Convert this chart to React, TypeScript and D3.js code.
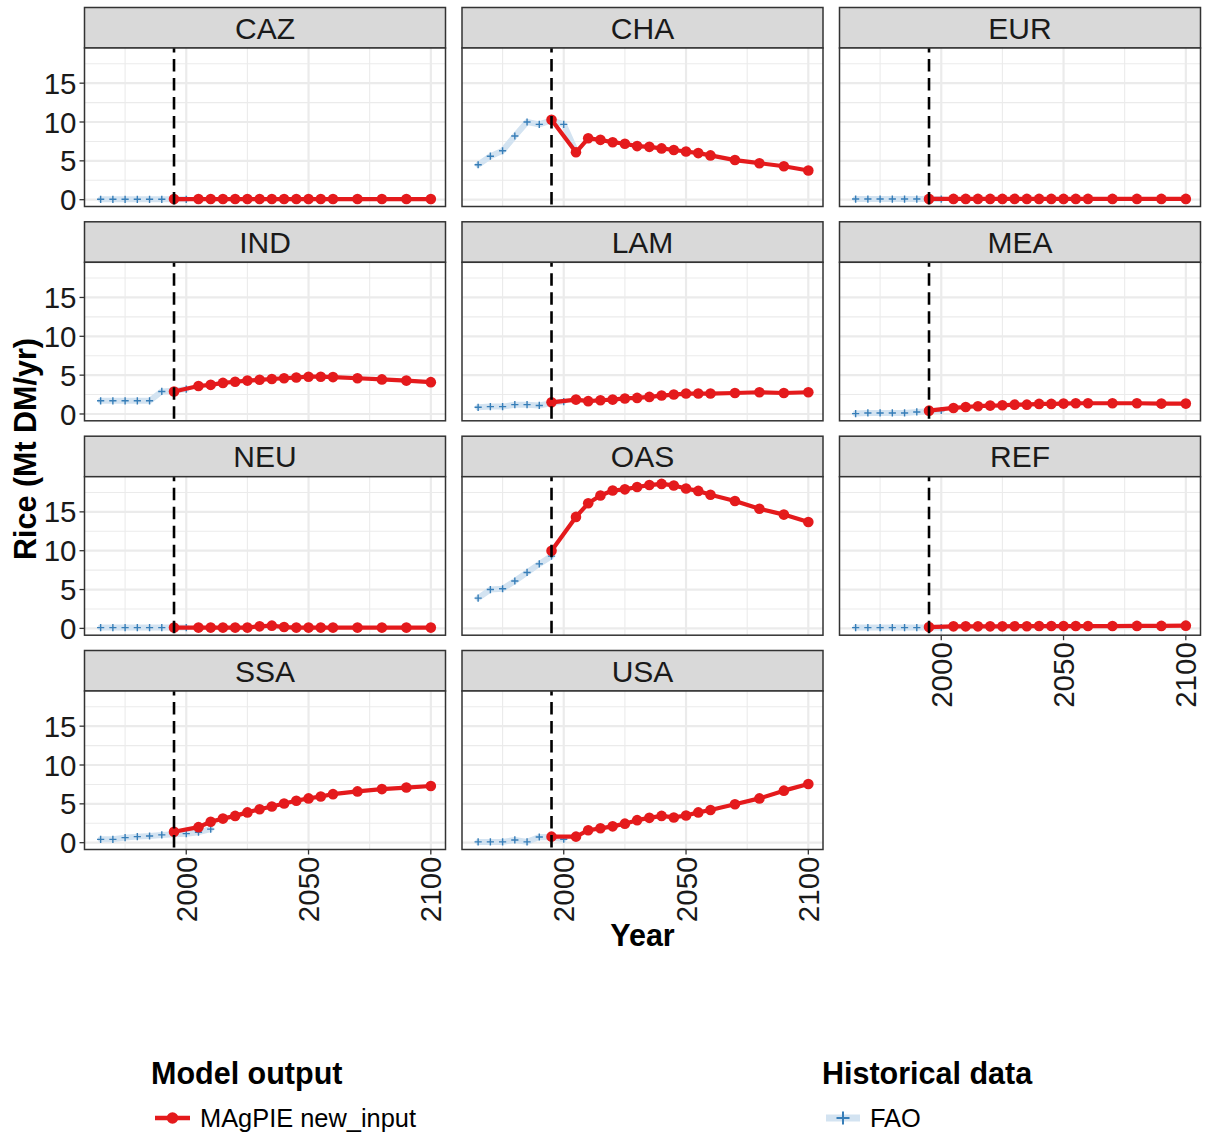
import React from 'react';
import * as d3 from 'd3';

// years
const modelYears = [1995, 2005, 2010, 2015, 2020, 2025, 2030, 2035, 2040, 2045, 2050, 2055, 2060, 2070, 2080, 2090, 2100];
const faoYears = [1965, 1970, 1975, 1980, 1985, 1990, 1995, 2000, 2005, 2010];
const regions = ['CAZ', 'CHA', 'EUR', 'IND', 'LAM', 'MEA', 'NEU', 'OAS', 'REF', 'SSA', 'USA'];
const yTicks = [0, 5, 10, 15];
const yMinor = [2.5, 7.5, 12.5, 17.5];
const xTicks = [2000, 2050, 2100];
const xMinor = [1975, 2025, 2075];
const startYear = 1995;

// MAgPIE new_input (Mt DM/yr)
const magCAZ = [0.08, 0.08, 0.08, 0.08, 0.08, 0.08, 0.08, 0.08, 0.08, 0.08, 0.08, 0.08, 0.08, 0.08, 0.08, 0.08, 0.08];
const magCHA = [10.3, 6.1, 7.9, 7.7, 7.4, 7.2, 6.9, 6.8, 6.6, 6.4, 6.2, 6.0, 5.7, 5.1, 4.7, 4.3, 3.75];
const magEUR = [0.1, 0.1, 0.1, 0.1, 0.1, 0.1, 0.1, 0.1, 0.1, 0.1, 0.1, 0.1, 0.1, 0.1, 0.1, 0.1, 0.1];
const magIND = [2.9, 3.6, 3.75, 4.0, 4.15, 4.3, 4.4, 4.5, 4.6, 4.7, 4.8, 4.8, 4.75, 4.6, 4.45, 4.3, 4.1];
const magLAM = [1.5, 1.85, 1.65, 1.77, 1.85, 2.0, 2.07, 2.2, 2.37, 2.5, 2.63, 2.63, 2.63, 2.7, 2.8, 2.7, 2.8];
const magMEA = [0.43, 0.78, 0.9, 1.0, 1.08, 1.12, 1.2, 1.2, 1.3, 1.3, 1.34, 1.38, 1.38, 1.38, 1.38, 1.34, 1.34];
const magNEU = [0.1, 0.1, 0.1, 0.1, 0.1, 0.1, 0.26, 0.35, 0.17, 0.1, 0.1, 0.1, 0.1, 0.1, 0.1, 0.1, 0.1];
const magOAS = [10.0, 14.35, 16.1, 17.1, 17.75, 17.9, 18.2, 18.45, 18.6, 18.4, 18.0, 17.7, 17.2, 16.4, 15.4, 14.65, 13.7];
const magREF = [0.17, 0.26, 0.26, 0.26, 0.26, 0.26, 0.28, 0.28, 0.3, 0.3, 0.3, 0.3, 0.3, 0.3, 0.32, 0.32, 0.35];
const magSSA = [1.4, 2.0, 2.7, 3.1, 3.45, 3.9, 4.3, 4.65, 5.05, 5.4, 5.7, 5.95, 6.25, 6.6, 6.9, 7.1, 7.3];
const magUSA = [0.78, 0.78, 1.6, 1.85, 2.1, 2.45, 2.9, 3.2, 3.45, 3.25, 3.5, 3.9, 4.2, 4.95, 5.7, 6.7, 7.55];

// FAO historical (null = not visible)
const faoCAZ = [0.05, 0.05, 0.05, 0.05, 0.05, 0.05, 0.05, 0.05, null, null];
const faoCHA = [4.5, 5.6, 6.3, 8.2, 10.0, 9.7, 10.2, 9.7, 6.2, null];
const faoEUR = [0.08, 0.08, 0.08, 0.08, 0.08, 0.08, 0.08, 0.08, null, null];
const faoIND = [1.7, 1.7, 1.7, 1.7, 1.7, 2.9, 3.0, 3.2, null, null];
const faoLAM = [0.86, 0.95, 0.95, 1.2, 1.2, 1.1, 1.4, 1.6, null, null];
const faoMEA = [0.05, 0.13, 0.13, 0.13, 0.13, 0.26, 0.35, 0.45, null, null];
const faoNEU = [0.1, 0.1, 0.1, 0.1, 0.1, 0.1, 0.1, 0.1, null, null];
const faoOAS = [3.9, 5.0, 5.1, 6.1, 7.2, 8.3, 9.3, null, null, null];
const faoREF = [0.1, 0.1, 0.1, 0.1, 0.1, 0.1, 0.1, 0.1, null, null];
const faoSSA = [0.43, 0.43, 0.65, 0.78, 0.86, 1.0, 1.1, 1.16, 1.35, 1.75];
const faoUSA = [0.1, 0.1, 0.1, 0.35, 0.1, 0.73, 0.7, 0.45, null, null];

const magpie: Record<string, number[]> = {
  CAZ: magCAZ, CHA: magCHA, EUR: magEUR, IND: magIND, LAM: magLAM, MEA: magMEA,
  NEU: magNEU, OAS: magOAS, REF: magREF, SSA: magSSA, USA: magUSA,
};
const fao: Record<string, (number | null)[]> = {
  CAZ: faoCAZ, CHA: faoCHA, EUR: faoEUR, IND: faoIND, LAM: faoLAM, MEA: faoMEA,
  NEU: faoNEU, OAS: faoOAS, REF: faoREF, SSA: faoSSA, USA: faoUSA,
};

const FONT = '"Liberation Sans", Arial, Helvetica, sans-serif';
const RED = '#E41A1C';
const BLUE = '#377EB8';
const BAND = '#d3e3f1';
const GRID = '#EBEBEB';

const colLeft = [84.5, 462, 839.5];
const stripTop = [7.5, 221.8, 436.2, 650.5];
const panelW = 361;
const stripH = 40.5;
const panelH = 158.5;

const x = d3.scaleLinear().domain([1958.4, 2106.0]).range([0, panelW]);
const allVals = regions.flatMap(r => [...magpie[r], ...(fao[r].filter(v => v != null) as number[])]);
const yLo = d3.min(allVals) as number;
const yHi = d3.max(allVals) as number;
const yPad = (yHi - yLo) * 0.05;
const y = d3.scaleLinear().domain([yLo - yPad, yHi + yPad]).range([panelH, 0]);

const modelLine = d3.line<number>().x((d, i) => x(modelYears[i])).y(d => y(d));
const faoLine = d3.line<number | null>().defined(d => d != null).x((d, i) => x(faoYears[i])).y(d => y(d as number));
const cross = 'M-3.6,0H3.6M0,-3.6V3.6';
const bigCross = 'M-6.5,0H6.5M0,-6.5V6.5';

function Panel({ region, idx }: { region: string; idx: number }) {
  const col = idx % 3;
  const row = Math.floor(idx / 3);
  const left = colLeft[col];
  const top = stripTop[row] + stripH;
  const showY = col === 0;
  const showX = idx + 3 >= regions.length;
  const fv = fao[region];
  return (
    <g>
      <g transform={`translate(${left},${stripTop[row]})`}>
        <rect width={panelW} height={stripH} fill="#D9D9D9" stroke="#333" strokeWidth={1.5} />
        <text x={panelW / 2} y={stripH / 2} dy="0.36em" textAnchor="middle" fontSize={30} fill="#1a1a1a">{region}</text>
      </g>
      <g transform={`translate(${left},${top})`}>
        <rect width={panelW} height={panelH} fill="#fff" />
        {yMinor.map(t => <line key={'ym' + t} x1={0} x2={panelW} y1={y(t)} y2={y(t)} stroke={GRID} strokeWidth={1.1} />)}
        {xMinor.map(t => <line key={'xm' + t} x1={x(t)} x2={x(t)} y1={0} y2={panelH} stroke={GRID} strokeWidth={1.1} />)}
        {yTicks.map(t => <line key={'yg' + t} x1={0} x2={panelW} y1={y(t)} y2={y(t)} stroke={GRID} strokeWidth={2.2} />)}
        {xTicks.map(t => <line key={'xg' + t} x1={x(t)} x2={x(t)} y1={0} y2={panelH} stroke={GRID} strokeWidth={2.2} />)}
        <path d={faoLine(fv) || ''} fill="none" stroke={BAND} strokeWidth={6} strokeLinejoin="round" strokeLinecap="round" />
        {fv.map((v, i) => v == null ? null : (
          <path key={'c' + i} d={cross} transform={`translate(${x(faoYears[i])},${y(v)})`} stroke={BLUE} strokeWidth={1.4} fill="none" />
        ))}
        <path d={modelLine(magpie[region]) || ''} fill="none" stroke={RED} strokeWidth={4.2} strokeLinejoin="round" />
        {magpie[region].map((v, i) => (
          <circle key={'p' + i} cx={x(modelYears[i])} cy={y(v)} r={5.3} fill={RED} />
        ))}
        <line x1={x(startYear)} x2={x(startYear)} y1={0} y2={panelH} stroke="#000" strokeWidth={2.6} strokeDasharray="12.5,6.5" strokeDashoffset={8} />
        <rect width={panelW} height={panelH} fill="none" stroke="#333" strokeWidth={1.5} />
        {showY && yTicks.map(t => (
          <g key={'yt' + t}>
            <line x1={-5} x2={0} y1={y(t)} y2={y(t)} stroke="#333" strokeWidth={1.3} />
            <text x={-8} y={y(t)} dy="0.36em" textAnchor="end" fontSize={29.5} fill="#1a1a1a">{t}</text>
          </g>
        ))}
        {showX && xTicks.map(t => (
          <g key={'xt' + t}>
            <line x1={x(t)} x2={x(t)} y1={panelH} y2={panelH + 5} stroke="#333" strokeWidth={1.3} />
            <text transform={`translate(${x(t)},${panelH + 7}) rotate(-90)`} dy="0.36em" textAnchor="end" fontSize={29.5} fill="#1a1a1a">{t}</text>
          </g>
        ))}
      </g>
    </g>
  );
}

export default function App() {
  return (
    <svg width={1206} height={1137} style={{ position: 'absolute', left: 0, top: 0, background: '#fff' }} fontFamily={FONT}>
      <rect width={1206} height={1137} fill="#fff" />
      {regions.map((r, i) => <Panel key={r} region={r} idx={i} />)}
      <text transform="translate(25,449) rotate(-90)" dy="0.36em" textAnchor="middle" fontSize={30.5} fontWeight="bold">Rice (Mt DM/yr)</text>
      <text x={642.5} y={946} textAnchor="middle" fontSize={30.5} fontWeight="bold">Year</text>

      <text x={151} y={1084} fontSize={30.5} fontWeight="bold">Model output</text>
      <line x1={155} x2={190} y1={1118} y2={1118} stroke={RED} strokeWidth={4.5} />
      <circle cx={172.5} cy={1118} r={5.8} fill={RED} />
      <text x={200} y={1118} dy="0.36em" fontSize={25.4}>MAgPIE new_input</text>

      <text x={822} y={1084} fontSize={30.5} fontWeight="bold">Historical data</text>
      <line x1={826} x2={860} y1={1118} y2={1118} stroke={BAND} strokeWidth={7} />
      <path d={bigCross} transform="translate(843,1118)" stroke={BLUE} strokeWidth={2} fill="none" />
      <text x={870} y={1118} dy="0.36em" fontSize={25.4}>FAO</text>
    </svg>
  );
}
